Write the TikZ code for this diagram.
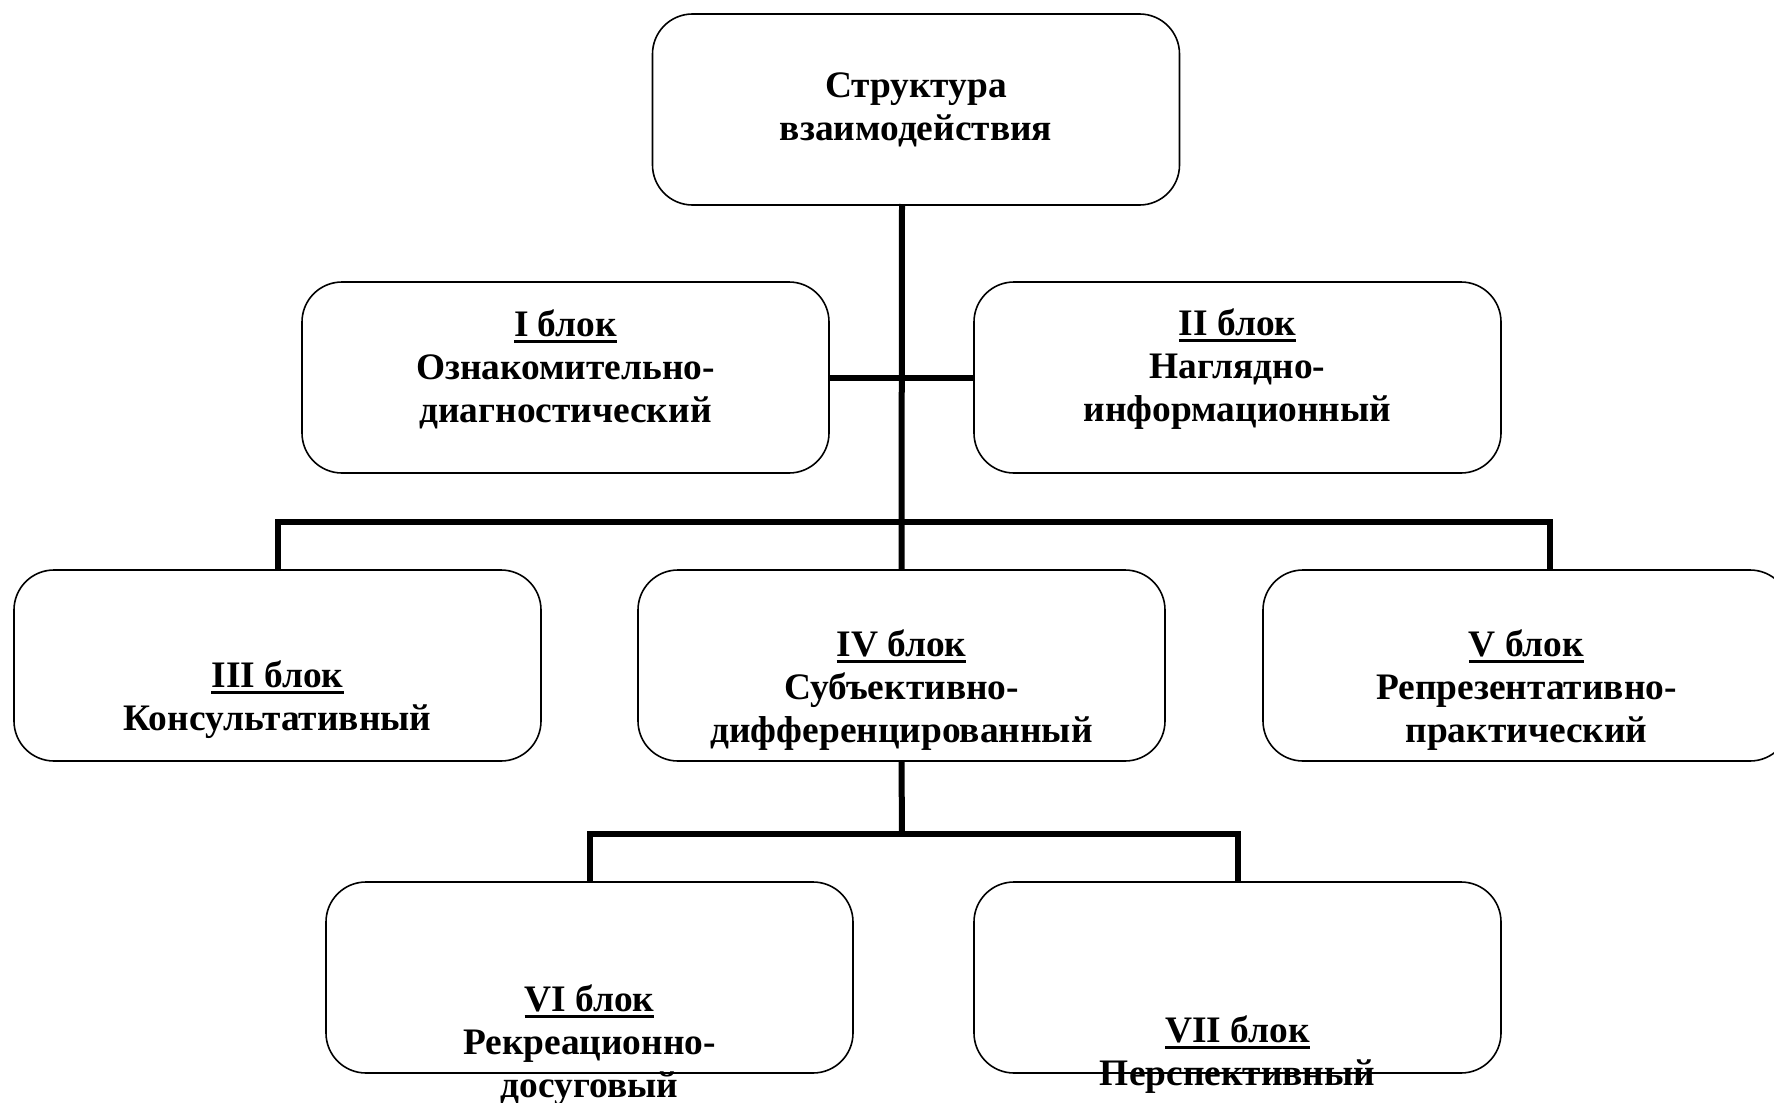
\documentclass[tikz,border=0pt]{standalone}
\usepackage{fontspec}
\setmainfont{Liberation Serif}
\newcommand\ulblk[1]{\setbox0\hbox{#1}\rlap{\rule[-3.2pt]{\wd0}{1.5pt}}\box0}
\begin{document}
\begin{tikzpicture}[x=0.5pt,y=-0.5pt,
  blk/.style={draw,line width=0.8pt,rounded corners=20pt,minimum width=263.5pt,minimum height=95.5pt,inner sep=0pt},
  txt/.style={align=center,inner sep=0pt,font=\fontsize{18.7pt}{21.5pt}\selectfont\bfseries},
  conn/.style={line width=3pt}]
\useasboundingbox (0,0) rectangle (1774,1103);
% boxes
\node[blk] (top) at (916,109.5) {};
\node[blk] (b1) at (565.5,377.5) {};
\node[blk] (b2) at (1237.5,377.5) {};
\node[blk] (b3) at (277.5,665.5) {};
\node[blk] (b4) at (901.5,665.5) {};
\node[blk] (b5) at (1526.5,665.5) {};
\node[blk] (b6) at (589.5,977.5) {};
\node[blk] (b7) at (1237.5,977.5) {};
% connectors
\coordinate (tr) at (902,204);
\coordinate (bus) at (902,522);
\coordinate (busR) at (1550,522);
\coordinate (lb) at (902,834);
\draw[conn] (tr) -- (b4.north);
\draw[conn] (b1.east) -- (b2.west);
\draw[conn] (b3.north) |- (busR) -- (busR |- b5.north);
\draw[conn] (b4.south) -- (lb);
\draw[conn] (b6.north) |- (lb) -| (b7.north);
% texts
\node[txt] (t0) at (916,110) {Структура\\взаимодействия};
\node[txt] (t1) at (565.5,369.5) {\ulblk{I блок}\\Ознакомительно-\\диагностический};
\node[txt] (t2) at (1237.5,369.5) {\ulblk{II блок}\\Наглядно-\\информационный};
\node[txt] (t3) at (277.5,700) {\ulblk{III блок}\\Консультативный};
\node[txt] (t4) at (901.5,690.5) {\ulblk{IV блок}\\Субъективно-\\дифференцированный};
\node[txt] (t5) at (1526.5,690.5) {\ulblk{V блок}\\Репрезентативно-\\практический};
\node[txt] (t6) at (589.5,1045.5) {\ulblk{VI блок}\\Рекреационно-\\досуговый};
\node[txt] (t7) at (1237.5,1055) {\ulblk{VII блок}\\Перспективный};
\end{tikzpicture}
\end{document}
